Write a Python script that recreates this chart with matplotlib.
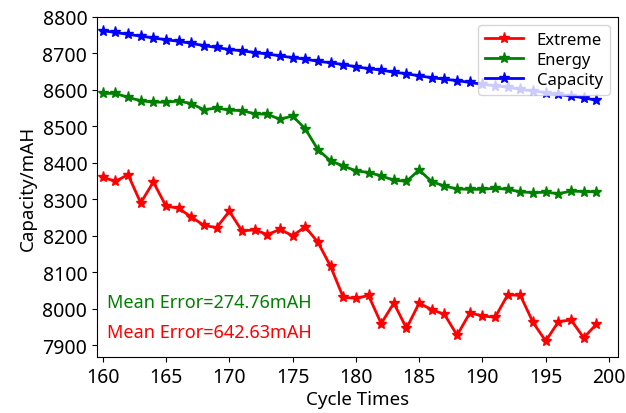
import matplotlib.pyplot as plt
import numpy as np

plt.rcParams['font.family'] = ['Noto Sans', 'DejaVu Sans']

cycles = np.arange(160, 200)

extreme = [8360, 8349, 8367, 8290, 8347, 8281, 8275, 8251, 8228, 8222,
           8267, 8213, 8216, 8203, 8217, 8200, 8224, 8182, 8116, 8031,
           8028, 8036, 7959, 8015, 7946, 8015, 7997, 7984, 7927, 7988,
           7980, 7976, 8038, 8036, 7962, 7911, 7964, 7969, 7920, 7957]

energy = [8590, 8590, 8579, 8570, 8566, 8566, 8569, 8562, 8545, 8550,
          8544, 8543, 8534, 8533, 8519, 8528, 8493, 8436, 8405, 8391,
          8378, 8373, 8364, 8352, 8349, 8380, 8348, 8336, 8328, 8327,
          8327, 8330, 8327, 8320, 8318, 8319, 8315, 8322, 8321, 8320]

capacity = [8762, 8757, 8752, 8747, 8742, 8737, 8733, 8727, 8721, 8716,
            8710, 8707, 8702, 8698, 8693, 8688, 8684, 8678, 8674, 8669,
            8663, 8658, 8654, 8648, 8644, 8638, 8633, 8629, 8625, 8620,
            8615, 8611, 8607, 8601, 8597, 8592, 8587, 8583, 8578, 8571]

err_energy = 'Mean Error=274.76mAH'
err_extreme = 'Mean Error=642.63mAH'

fig = plt.figure(figsize=(6.26, 4.14), dpi=100)
ax = fig.add_axes([0.155, 0.135, 0.832, 0.822])

ax.plot(cycles, extreme, 'r-*', lw=2, ms=8, label='Extreme')
ax.plot(cycles, energy, 'g-*', lw=2, ms=8, label='Energy')
ax.plot(cycles, capacity, 'b-*', lw=2, ms=8, label='Capacity')

ax.set_xlim(159.55, 200.7)
ax.set_ylim(7867, 8800)
ax.set_xticks(range(160, 201, 5))
ax.set_yticks(range(7900, 8801, 100))
ax.tick_params(labelsize=14)
ax.set_xlabel('Cycle Times', fontsize=13.5, labelpad=2)
ax.set_ylabel('Capacity/mAH', fontsize=13.5)

ax.text(0.019, 0.162, err_energy, color='green', fontsize=13,
        transform=ax.transAxes, va='center')
ax.text(0.019, 0.074, err_extreme, color='red', fontsize=13,
        transform=ax.transAxes, va='center')

ax.legend(loc='upper right', fontsize=12, handlelength=2.3,
          borderaxespad=0.5, labelspacing=0.25)

fig.savefig('out.png', dpi=100)
